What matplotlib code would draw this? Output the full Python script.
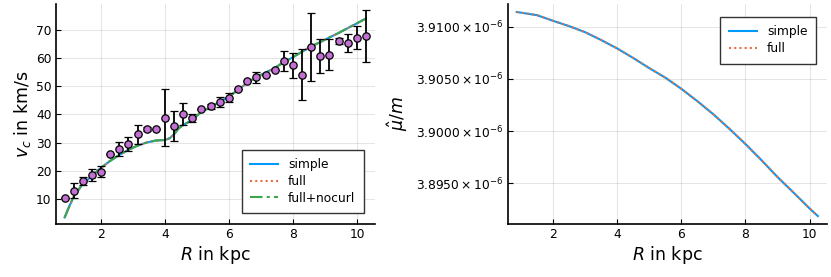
import numpy as np
import matplotlib.pyplot as plt
from matplotlib.ticker import FixedLocator, FixedFormatter

# observed rotation curve (points with error bars)
R_obs = [0.86, 1.14, 1.43, 1.71, 2.00, 2.28, 2.57, 2.85, 3.14, 3.42, 3.71, 3.99,
         4.28, 4.56, 4.85, 5.13, 5.42, 5.70, 5.99, 6.27, 6.56, 6.84, 7.13, 7.41,
         7.70, 7.98, 8.27, 8.55, 8.84, 9.12, 9.41, 9.69, 9.98, 10.26]
v_obs = [10.3, 13.1, 16.5, 18.5, 19.8, 26.2, 27.7, 29.6, 33.0, 34.8, 34.9, 38.9,
         36.0, 40.2, 38.7, 41.9, 42.9, 44.4, 46.0, 49.0, 51.9, 53.1, 53.9, 55.9,
         58.8, 57.4, 54.1, 64.0, 60.7, 61.1, 66.0, 65.3, 67.2, 67.6]
v_err = [0.0, 2.8, 1.4, 2.1, 1.9, 0.0, 2.5, 2.5, 3.4, 0.7, 0.0, 10.2,
         5.4, 4.0, 1.5, 0.0, 0.8, 1.8, 1.5, 0.0, 0.0, 2.0, 0.0, 0.0,
         3.5, 4.5, 9.0, 12.0, 6.0, 5.5, 1.0, 3.2, 4.0, 9.2]

# model curves (simple / full / full+nocurl are on top of each other)
R_mod = [0.86, 1.0, 1.14, 1.40, 1.71, 2.0, 2.28, 2.57, 2.85, 3.14, 3.42, 3.71,
         4.0, 4.14, 4.28, 4.42, 4.56, 4.85, 5.13, 5.42, 5.70, 5.99, 6.27, 6.56,
         6.84, 7.13, 7.41, 7.70, 7.98, 8.27, 8.55, 8.84, 9.12, 9.41, 9.69, 9.98, 10.26]
v_simple = [3.6, 7.4, 10.9, 15.1, 18.3, 21.2, 23.6, 25.7, 27.5, 29.0, 30.1, 30.8,
            31.0, 31.6, 33.1, 35.1, 36.3, 38.1, 41.0, 42.6, 44.5, 46.3, 48.7, 51.2,
            53.2, 54.8, 56.4, 58.5, 60.2, 62.2, 64.0, 65.6, 67.2, 68.8, 70.5, 72.2, 73.9]
v_full = v_simple
v_nocurl = v_simple

# mu_hat / m
R_mu = [0.86, 1.5, 2.0, 2.5, 3.0, 3.5, 4.0, 4.5, 5.0, 5.5, 6.0, 6.5, 7.0, 7.5,
        8.0, 8.5, 9.0, 9.5, 10.0, 10.26]
mu_simple = [3.91141, 3.91110, 3.91056, 3.91005, 3.90947, 3.90872, 3.90791, 3.90700,
             3.90603, 3.90512, 3.90405, 3.90287, 3.90161, 3.90022, 3.89877, 3.89722,
             3.89561, 3.89412, 3.89260, 3.89187]
mu_simple = [m * 1e-6 for m in mu_simple]
mu_full = mu_simple

mu_ticks = [3.8950e-6, 3.9000e-6, 3.9050e-6, 3.9100e-6]
mu_labels = [r'$3.8950\times10^{-6}$', r'$3.9000\times10^{-6}$',
             r'$3.9050\times10^{-6}$', r'$3.9100\times10^{-6}$']

blue = '#009AFA'
orange = '#E36F47'
green = '#3EA44E'
purple = '#C271D2'

plt.rcParams['font.family'] = 'DejaVu Sans'
plt.rcParams['mathtext.fontset'] = 'dejavusans'

fig = plt.figure(figsize=(8.31, 2.77), dpi=100)
ax1 = fig.add_axes([0.067, 0.192, 0.384, 0.793])
ax2 = fig.add_axes([0.611, 0.192, 0.384, 0.793])

def style(ax):
    for s in ['top', 'right']:
        ax.spines[s].set_visible(False)
    for s in ['left', 'bottom']:
        ax.spines[s].set_linewidth(1.2)
    ax.grid(True, color='black', alpha=0.1, linewidth=0.8)
    ax.set_axisbelow(True)
    ax.tick_params(direction='in', length=3.5, width=0.8, labelsize=8.8, pad=3)
    ax.set_xticks([2, 4, 6, 8, 10])
    ax.set_xlabel(r'$R$ in kpc', fontsize=12.5, labelpad=2)

# left panel
ax1.plot(R_mod, v_simple, color=blue, lw=1.5, label='simple')
ax1.plot(R_mod, v_full, color=orange, lw=1.5, ls=(0, (1, 1.5)), label='full')
ax1.plot(R_mod, v_nocurl, color=green, lw=1.5, ls=(0, (6, 2, 1.5, 2)), label='full+nocurl')
ax1.errorbar(R_obs, v_obs, yerr=v_err, fmt='o', color=purple, ms=5.3,
             mec='black', mew=0.9, ecolor='black', elinewidth=1.3,
             capsize=2.6, capthick=1.3, zorder=5)
ax1.set_xlim(0.58, 10.54)
ax1.set_ylim(1.35, 79.0)
ax1.set_yticks([10, 20, 30, 40, 50, 60, 70])
ax1.set_ylabel(r'$v_c$ in km/s', fontsize=12.5, labelpad=2)
style(ax1)
ax1.legend(loc='lower right', fontsize=8.8, frameon=True, fancybox=False,
           edgecolor='#333333', framealpha=1, borderpad=0.7, handlelength=2.3,
           labelspacing=0.3, bbox_to_anchor=(0.985, 0.02))

# right panel
ax2.plot(R_mu, mu_simple, color=blue, lw=1.5, label='simple')
ax2.plot(R_mu, mu_full, color=orange, lw=1.5, ls=(0, (1, 1.5)), label='full')
ax2.set_xlim(0.58, 10.54)
ax2.set_ylim(3.89113e-6, 3.91216e-6)
ax2.yaxis.set_major_locator(FixedLocator(mu_ticks))
ax2.yaxis.set_major_formatter(FixedFormatter(mu_labels))
ax2.set_ylabel(r'$\hat{\mu}/m$', fontsize=12.5, labelpad=4)
style(ax2)
ax2.legend(loc='upper right', fontsize=8.8, frameon=True, fancybox=False,
           edgecolor='#333333', framealpha=1, borderpad=0.7, handlelength=2.3,
           labelspacing=0.3, bbox_to_anchor=(0.985, 0.97))

plt.savefig('out.png', dpi=100)
